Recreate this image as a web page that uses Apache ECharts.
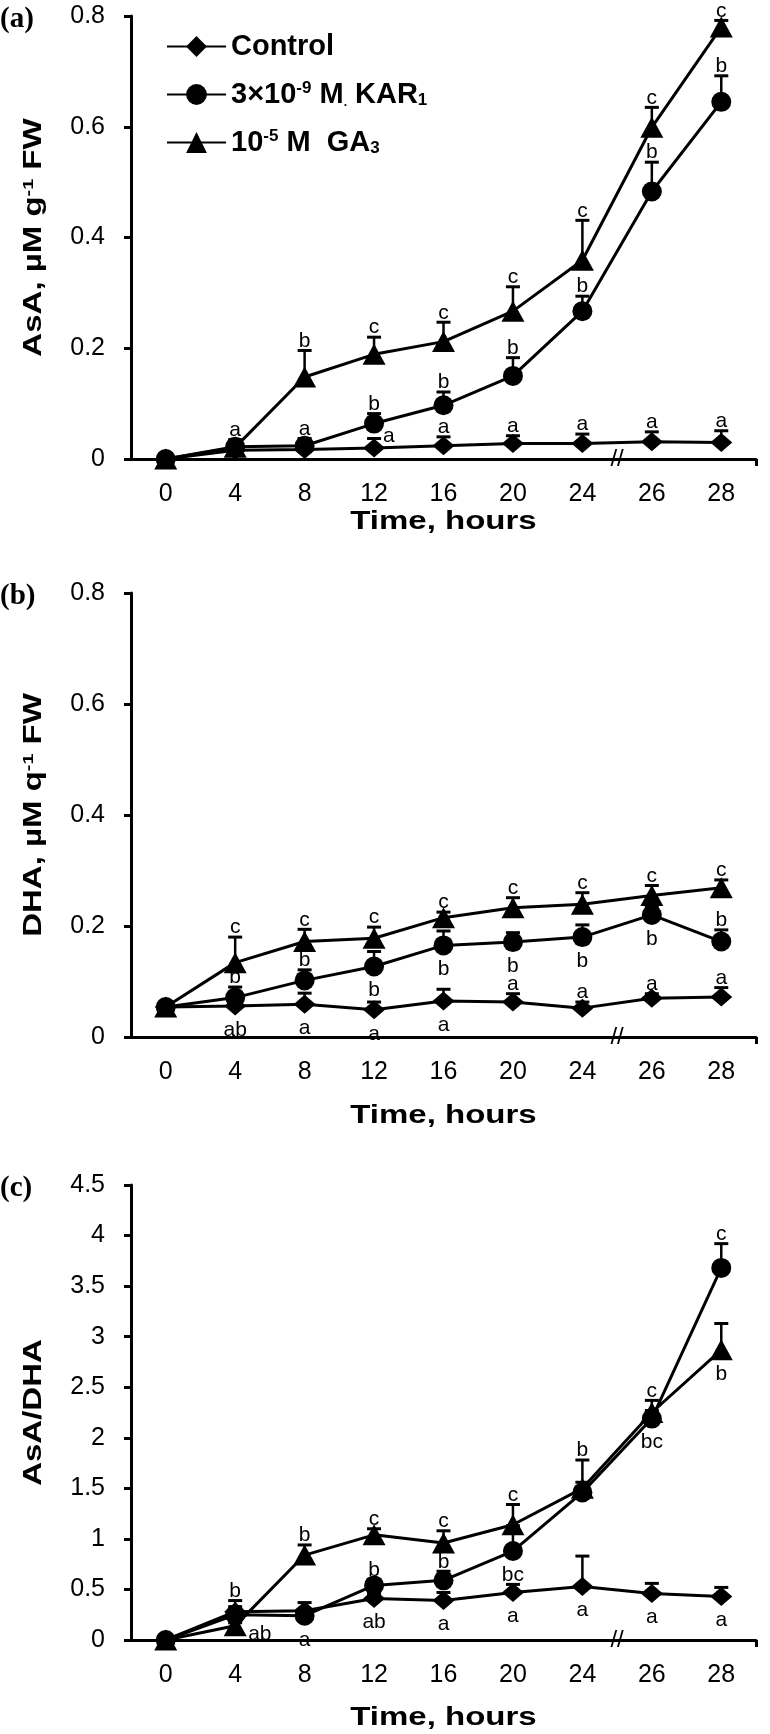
<!DOCTYPE html>
<html><head><meta charset="utf-8">
<script src="https://cdn.jsdelivr.net/npm/echarts@6/dist/echarts.min.js"></script>
<style>html,body{margin:0;padding:0;background:#fff}#c{width:770px;height:1734px}</style>
</head><body><div id="c"></div>
<script>
// ---------- data ----------
const hours = ['0', '4', '8', '12', '16', '20', '24', '26', '28'];
const seriesNames = ['Control', '3×10-9 M. KAR1', '10-5 M GA3'];
const legendLabels = ['Control', '3×10{sup|-9} M{sm|.} KAR{sub|1}', '10{sup|-5} M  GA{sub|3}'];
const xTitle = 'Time, hours';
const yTitles = ['AsA, µM g{sup|-1} FW', 'DHA, µM q{sup|-1} FW', 'AsA/DHA'];
const panelTags = ['(a)', '(b)', '(c)'];

// (a) AsA, µM g-1 FW
const asaControl = [0, 0.016, 0.017, 0.020, 0.024, 0.028, 0.028, 0.031, 0.030];
const asaControlSd = [0, 0.012, 0.014, 0.017, 0.016, 0.014, 0.017, 0.018, 0.021];
const asaControlLetters = ['', '', '', 'a', 'a', 'a', 'a', 'a', 'a'];
const asaKar = [0, 0.022, 0.024, 0.064, 0.097, 0.150, 0.267, 0.483, 0.645];
const asaKarSd = [0, 0.013, 0.013, 0.018, 0.024, 0.033, 0.027, 0.053, 0.047];
const asaKarLetters = ['', 'a', 'a', 'b', 'b', 'b', 'b', 'b', 'b'];
const asaGa = [0, 0.021, 0.148, 0.189, 0.212, 0.267, 0.359, 0.599, 0.780];
const asaGaSd = [0, 0.008, 0.048, 0.031, 0.035, 0.044, 0.072, 0.036, 0.012];
const asaGaLetters = ['', '', 'b', 'c', 'c', 'c', 'c', 'c', 'c'];

// (b) DHA, µM q-1 FW
const dhaControl = [0.054, 0.056, 0.059, 0.049, 0.065, 0.063, 0.052, 0.070, 0.072];
const dhaControlSd = [0, 0.010, 0.020, 0.014, 0.021, 0.015, 0.011, 0.008, 0.017];
const dhaControlLetters = ['', 'ab', 'a', 'a', 'a', 'a', 'a', 'a', 'a'];
const dhaKar = [0.054, 0.071, 0.102, 0.127, 0.165, 0.171, 0.180, 0.220, 0.172];
const dhaKarSd = [0, 0.019, 0.019, 0.027, 0.026, 0.017, 0.022, 0.015, 0.021];
const dhaKarLetters = ['', 'b', 'b', 'b', 'b', 'b', 'b', 'b', 'b'];
const dhaGa = [0.054, 0.134, 0.172, 0.178, 0.215, 0.233, 0.239, 0.255, 0.269];
const dhaGaSd = [0, 0.046, 0.022, 0.020, 0.010, 0.018, 0.021, 0.018, 0.014];
const dhaGaLetters = ['', 'c', 'c', 'c', 'c', 'c', 'c', 'c', 'c'];

// (c) AsA/DHA
const ratioControl = [0, 0.28, 0.29, 0.41, 0.39, 0.47, 0.53, 0.46, 0.43];
const ratioControlSd = [0, 0.05, 0.08, 0.05, 0.08, 0.08, 0.30, 0.10, 0.09];
const ratioControlLetters = ['', '', '', 'ab', 'a', 'a', 'a', 'a', 'a'];
const ratioKar = [0, 0.25, 0.24, 0.54, 0.59, 0.88, 1.46, 2.19, 3.68];
const ratioKarSd = [0, 0.14, 0.06, 0.06, 0.09, 0.25, 0.10, 0.08, 0.24];
const ratioKarLetters = ['', 'b', 'a', 'b', 'b', 'bc', '', 'bc', 'c'];
const ratioGa = [0, 0.14, 0.84, 1.04, 0.96, 1.14, 1.50, 2.25, 2.87];
const ratioGaSd = [0, 0.03, 0.10, 0.06, 0.12, 0.20, 0.28, 0.12, 0.26];
const ratioGaLetters = ['', 'ab', 'b', 'c', 'c', 'c', 'b', 'c', 'b'];

// ---------- letter placement (style, not data) ----------
// t = above error bar, b = below marker, r = right of error cap, rb = right-below marker
const T9 = ['t', 't', 't', 't', 't', 't', 't', 't', 't'];
const asaControlSide = ['t', 't', 't', 'r', 't', 't', 't', 't', 't'];
const dhaControlSide = ['t', 'b', 'b', 'b', 'b', 't', 't', 't', 't'];
const dhaKarSide = ['t', 't', 't', 'b', 'b', 'b', 'b', 'b', 't'];
const ratioControlSide = ['b', 'b', 'b', 'b', 'b', 'b', 'b', 'b', 'b'];
const ratioKarSide = ['t', 't', 'b', 't', 't', 'b', 't', 'b', 't'];
const ratioGaSide = ['t', 'rb', 't', 't', 't', 't', 't', 't', 'b'];

const panels = [
  { vals: [asaControl, asaKar, asaGa], sd: [asaControlSd, asaKarSd, asaGaSd],
    letters: [asaControlLetters, asaKarLetters, asaGaLetters], sides: [asaControlSide, T9, T9],
    yMax: 0.8, yInt: 0.2 },
  { vals: [dhaControl, dhaKar, dhaGa], sd: [dhaControlSd, dhaKarSd, dhaGaSd],
    letters: [dhaControlLetters, dhaKarLetters, dhaGaLetters], sides: [dhaControlSide, dhaKarSide, T9],
    yMax: 0.8, yInt: 0.2 },
  { vals: [ratioControl, ratioKar, ratioGa], sd: [ratioControlSd, ratioKarSd, ratioGaSd],
    letters: [ratioControlLetters, ratioKarLetters, ratioGaLetters], sides: [ratioControlSide, ratioKarSide, ratioGaSide],
    yMax: 4.5, yInt: 0.5 }
];

// ---------- layout / style ----------
const grids = [
  { left: 131, width: 625, top: 16, height: 443 },
  { left: 131, width: 625, top: 593, height: 444 },
  { left: 131, width: 625, top: 1185, height: 455 }
];
const xTitleOffset = [63, 79, 78];
const symbols = ['diamond', 'circle', 'triangle'];
const symbolSizes = [[22, 19], 20, [23, 21]];
const REG = 'Liberation Sans';
const TITLE_FONT = { fontFamily: REG, fontWeight: 'bold', fontSize: 25, fill: '#000' };
const TITLE_STRETCH = 1.32;

function errRender(sd, letters, sides) {
  return function (params, api) {
    const i = params.dataIndex;
    const x = api.value(0), v = api.value(1);
    const p = api.coord([x, v]);
    const top = api.coord([x, v + sd[i]]);
    const children = [];
    if (sd[i] > 0) {
      children.push({ type: 'line', shape: { x1: p[0], y1: p[1], x2: top[0], y2: top[1] },
        style: { stroke: '#000', lineWidth: 2.5 } });
      children.push({ type: 'line', shape: { x1: top[0] - 7, y1: top[1], x2: top[0] + 7, y2: top[1] },
        style: { stroke: '#000', lineWidth: 3 } });
    }
    const L = letters[i];
    if (L) {
      const side = sides[i];
      let tx = top[0], ty = top[1] + 1, align = 'center', va = 'bottom';
      if (side === 'b') { tx = p[0]; ty = p[1] + 24; va = 'middle'; }
      else if (side === 'r') { tx = top[0] + 9; ty = top[1] - 2; align = 'left'; va = 'middle'; }
      else if (side === 'rb') { tx = p[0] + 13; ty = p[1] + 8; align = 'left'; va = 'middle'; }
      children.push({ type: 'text', x: tx, y: ty,
        style: { text: L, fill: '#000', fontSize: 21, fontFamily: REG, align: align, verticalAlign: va } });
    }
    return { type: 'group', children: children };
  };
}

const xAxes = [], yAxes = [], series = [];
panels.forEach((pn, k) => {
  xAxes.push({
    type: 'category', gridIndex: k, data: hours, boundaryGap: true,
    axisLine: { lineStyle: { color: '#000', width: 3 } },
    axisTick: { alignWithLabel: true, length: 7, lineStyle: { color: '#000', width: 3 } },
    axisLabel: { interval: 0, margin: 23, fontFamily: REG, fontSize: 25, color: '#000' },
    splitLine: { show: false }
  });
  yAxes.push({
    type: 'value', gridIndex: k, min: 0, max: pn.yMax, interval: pn.yInt,
    axisLine: { show: true, lineStyle: { color: '#000', width: 3 } },
    axisTick: { show: true, length: 7, lineStyle: { color: '#000', width: 3 } },
    axisLabel: { margin: 26, fontFamily: REG, fontSize: 25, color: '#000' },
    splitLine: { show: false }
  });
  for (let s = 0; s < 3; s++) {
    series.push({
      type: 'custom', xAxisIndex: k, yAxisIndex: k, silent: true, z: 2,
      data: pn.vals[s].map((v, i) => [i, v]),
      renderItem: errRender(pn.sd[s], pn.letters[s], pn.sides[s])
    });
  }
  for (let s = 0; s < 3; s++) {
    series.push({
      type: 'line', name: seriesNames[s], xAxisIndex: k, yAxisIndex: k, z: 3,
      data: pn.vals[s], symbol: symbols[s], symbolSize: symbolSizes[s], showAllSymbol: true,
      lineStyle: { color: '#000', width: 3 }, itemStyle: { color: '#000' }
    });
  }
});
// extra axes only to draw the closing tick at the right end of each x axis
panels.forEach((pn, k) => {
  xAxes.push({
    type: 'value', gridIndex: k, position: 'bottom', min: 0, max: 1, interval: 1,
    axisLine: { show: false }, axisLabel: { show: false }, splitLine: { show: false },
    axisTick: { show: true, length: 7, customValues: [1], lineStyle: { color: '#000', width: 3 } }
  });
});

const chart = echarts.init(document.getElementById('c'));
chart.setOption({
  animation: false,
  backgroundColor: '#fff',
  grid: grids,
  xAxis: xAxes,
  yAxis: yAxes,
  legend: {
    data: seriesNames, orient: 'vertical', left: 161, top: 27,
    itemWidth: 59, itemHeight: 26, itemGap: 19, selectedMode: false,
    formatter: function (name) { return legendLabels[seriesNames.indexOf(name)]; },
    textStyle: {
      color: '#000', fontFamily: REG, fontWeight: 'bold', fontSize: 29,
      rich: {
        sup: { fontFamily: REG, fontWeight: 'bold', fontSize: 17, verticalAlign: 'top', color: '#000' },
        sub: { fontFamily: REG, fontWeight: 'bold', fontSize: 17, verticalAlign: 'bottom', color: '#000' },
        sm: { fontFamily: REG, fontWeight: 'bold', fontSize: 12, verticalAlign: 'bottom', color: '#000' }
      }
    }
  },
  series: series
});

const supRich = { sup: { fontFamily: REG, fontWeight: 'bold', fontSize: 15, verticalAlign: 'top', fill: '#000' } };
const graphics = [];
panels.forEach((pn, k) => {
  const yTop = chart.convertToPixel({ yAxisIndex: k }, pn.yMax);
  const y0 = chart.convertToPixel({ yAxisIndex: k }, 0);
  const xFirst = chart.convertToPixel({ xAxisIndex: k }, hours[0]);
  const xLast = chart.convertToPixel({ xAxisIndex: k }, hours[hours.length - 1]);
  // panel tag
  graphics.push({ type: 'text', x: 0, y: yTop + 4,
    style: { text: panelTags[k], fontFamily: 'Liberation Serif', fontWeight: 'bold', fontSize: 29, fill: '#000',
      align: 'left', verticalAlign: 'middle' } });
  // axis break mark between 24 and 26
  const a = chart.convertToPixel({ xAxisIndex: k }, hours[6]);
  const b = chart.convertToPixel({ xAxisIndex: k }, hours[7]);
  graphics.push({ type: 'text', x: (a + b) / 2, y: y0, z: 10,
    style: { text: '//', fontFamily: REG, fontSize: 24, fill: '#000', align: 'center', verticalAlign: 'middle' } });
  // x title
  graphics.push({ type: 'text', x: (xFirst + xLast) / 2, y: y0 + xTitleOffset[k], scaleX: TITLE_STRETCH,
    style: Object.assign({ text: xTitle, align: 'center', verticalAlign: 'middle' }, TITLE_FONT) });
  // y title (rotated, stretched along reading direction)
  graphics.push({ type: 'text', x: 34, y: (yTop + y0) / 2, rotation: Math.PI / 2, scaleX: TITLE_STRETCH,
    style: Object.assign({ text: yTitles[k], align: 'center', verticalAlign: 'middle', rich: supRich }, TITLE_FONT) });
});
chart.setOption({ graphic: graphics });
</script>
</body></html>
